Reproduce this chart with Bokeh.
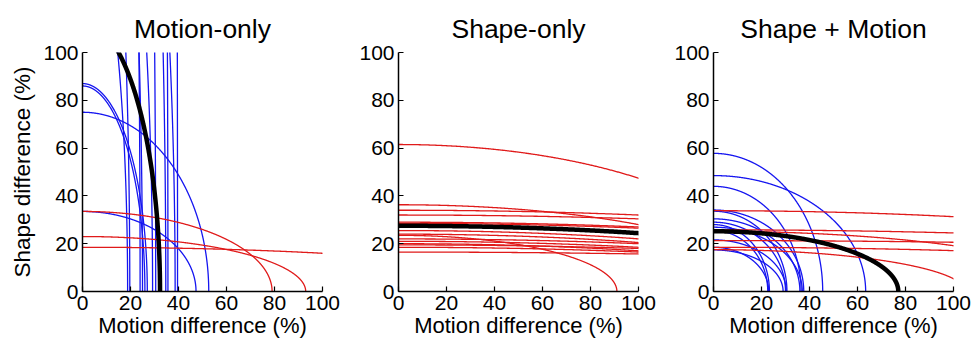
import numpy as np
from bokeh.plotting import figure
from bokeh.layouts import row
from bokeh.models import Range1d, FixedTicker
from bokeh.embed import file_html
from bokeh.resources import INLINE

# Each curve is a quarter ellipse: x-intercept (motion) and y-intercept (shape)
titles = ["Motion-only", "Shape-only", "Shape + Motion"]
x_label = "Motion difference (%)"
y_label = "Shape difference (%)"
tick_values = [0, 20, 40, 60, 80, 100]

# Panel 1: Motion-only
p1_blue_a = [18.8, 19.7, 24.0, 25.0, 29.2, 30.5, 34.7, 35.6, 38.6, 39.6, 27.0, 26.0, 52.6, 47.3]
p1_blue_b = [160, 250, 500, 300, 250, 600, 400, 900, 300, 1500, 87.0, 86.0, 75.0, 33.5]
p1_red_a = [79.0, 93.0, 199.0]
p1_red_b = [33.5, 23.0, 18.5]
p1_mean_a = [32.3]
p1_mean_b = [113.0]

# Panel 2: Shape-only
p2_blue_a = []
p2_blue_b = []
p2_red_a = [157, 157, 296, 320, 274, 198, 91, 240, 211, 190, 221, 325, 260, 192, 272]
p2_red_b = [61.5, 36.3, 34.0, 32.0, 29.0, 25.5, 23.5, 22.0, 21.0, 20.0, 18.5, 16.5, 19.5, 24.0, 28.5]
p2_mean_a = [217.0]
p2_mean_b = [27.5]

# Panel 3: Shape + Motion
p3_blue_a = [45.5, 63.4, 36.5, 37.6, 30.6, 36.0, 30.0, 23.3, 37.0, 22.6, 30.3, 23.0, 29.0]
p3_blue_b = [57.8, 48.5, 44.0, 34.1, 33.6, 30.4, 29.0, 28.0, 26.9, 25.5, 21.6, 18.5, 17.4]
p3_red_a = [265, 319, 154, 393, 262, 105]
p3_red_b = [33.8, 25.8, 25.2, 21.3, 18.5, 17.5]
p3_mean_a = [77.0]
p3_mean_b = [25.2]

panels = [
    (p1_blue_a, p1_blue_b, p1_red_a, p1_red_b, p1_mean_a, p1_mean_b),
    (p2_blue_a, p2_blue_b, p2_red_a, p2_red_b, p2_mean_a, p2_mean_b),
    (p3_blue_a, p3_blue_b, p3_red_a, p3_red_b, p3_mean_a, p3_mean_b),
]

BLUE = "#1515f0"
RED = "#e01a1a"
FONT = "Liberation Sans"

t = np.linspace(0, np.pi / 2, 600)


def arcs(a_list, b_list):
    xs, ys = [], []
    for a, b in zip(a_list, b_list):
        xs.append(list(a * np.cos(t)))
        ys.append(list(b * np.sin(t)))
    return xs, ys


widths = [340, 320, 311]
lefts = [82, 58, 53]
rights = [18, 22, 18]

figs = []
for i, (ba, bb, ra, rb, ma, mb) in enumerate(panels):
    p = figure(width=widths[i], height=341, output_backend="svg", toolbar_location=None,
               x_range=Range1d(0, 100), y_range=Range1d(0, 100),
               min_border_left=lefts[i], min_border_right=rights[i],
               min_border_top=52, min_border_bottom=50, title=titles[i])
    p.title.align = "center"
    p.title.text_font = FONT
    p.title.text_font_size = "26.5px"
    p.title.text_font_style = "normal"
    p.title.text_color = "black"
    p.title.standoff = 18
    p.outline_line_color = None
    p.grid.visible = False
    p.background_fill_color = "white"
    p.border_fill_color = "white"
    for ax in (p.xaxis[0], p.yaxis[0]):
        ax.ticker = FixedTicker(ticks=tick_values)
        ax.major_tick_in = 5
        ax.major_tick_out = 0
        ax.minor_tick_line_color = None
        ax.axis_line_color = "black"
        ax.axis_line_width = 1.5
        ax.major_tick_line_color = "black"
        ax.major_tick_line_width = 1.2
        ax.major_label_text_font = FONT
        ax.major_label_text_font_size = "21px"
        ax.major_label_text_color = "black"
        ax.major_label_standoff = 4
        ax.axis_label_text_font = FONT
        ax.axis_label_text_font_style = "normal"
        ax.axis_label_text_color = "black"
    p.xaxis.axis_label = x_label
    p.xaxis.axis_label_text_font_size = "22px"
    p.xaxis.axis_label_standoff = 0
    if i == 0:
        p.yaxis.axis_label = y_label
        p.yaxis.axis_label_text_font_size = "22.5px"
        p.yaxis.axis_label_standoff = 5

    if ba:
        xs, ys = arcs(ba, bb)
        p.multi_line(xs, ys, line_color=BLUE, line_width=1.3)
    if ra:
        xs, ys = arcs(ra, rb)
        p.multi_line(xs, ys, line_color=RED, line_width=1.3)
    xs, ys = arcs(ma, mb)
    p.multi_line(xs, ys, line_color="black", line_width=4.5)
    figs.append(p)

layout = row(*figs)
open("out.html", "w").write(file_html(layout, INLINE))
